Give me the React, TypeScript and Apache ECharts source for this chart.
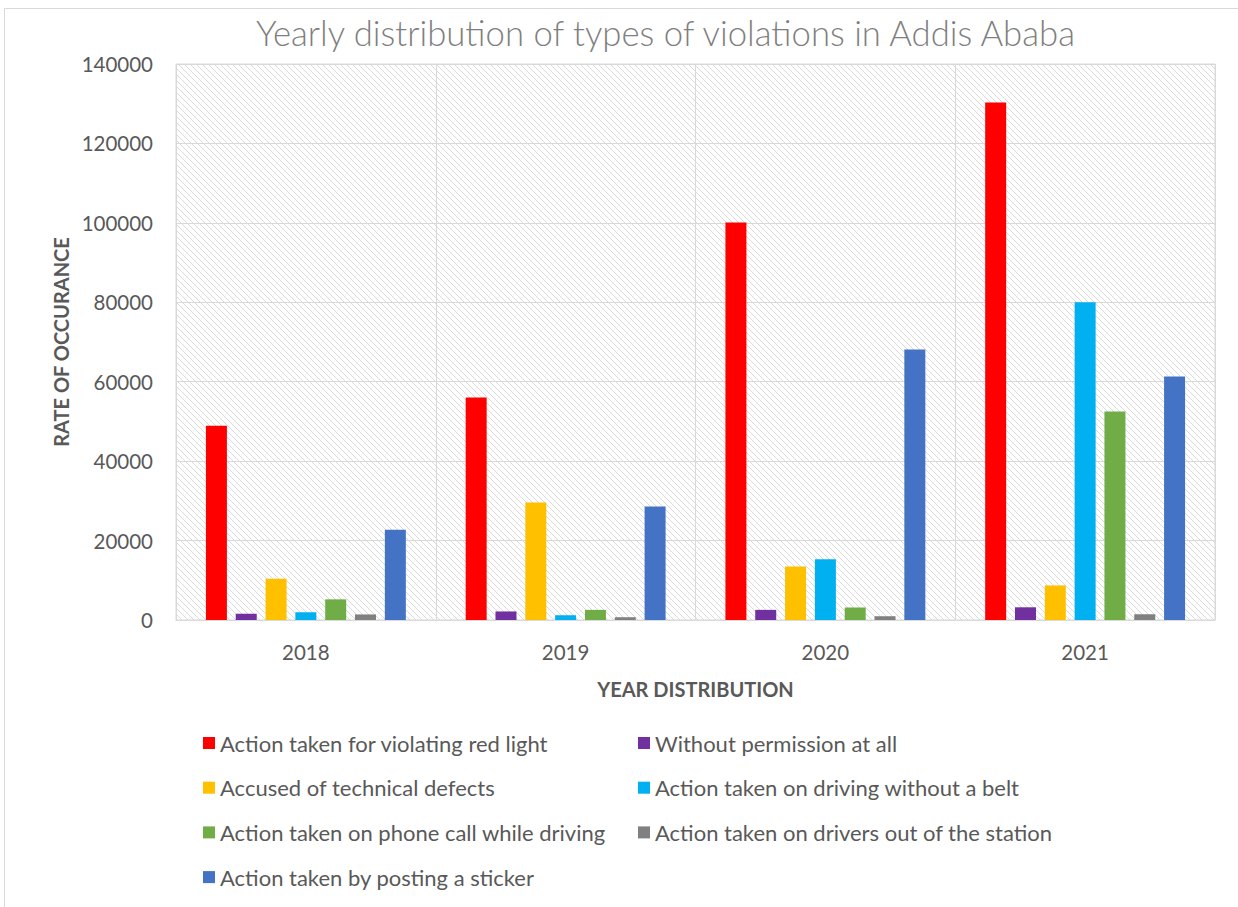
import React, { useEffect, useRef } from "react";
import * as echarts from "echarts";

const years = ["2018", "2019", "2020", "2021"];
const seriesNames = [
  "Action taken for violating red light",
  "Without permission at all",
  "Accused of technical defects",
  "Action taken on driving without a belt",
  "Action taken on phone call while driving",
  "Action taken on drivers out of the station",
  "Action taken by posting a sticker",
];
const redLight = [48900, 56000, 100100, 130300];
const noPermission = [1550, 2150, 2550, 3200];
const technicalDefects = [10400, 29600, 13500, 8700];
const noBelt = [1950, 1200, 15300, 80000];
const phoneCall = [5200, 2550, 3150, 52500];
const outOfStation = [1400, 700, 950, 1450];
const sticker = [22700, 28600, 68100, 61300];
const seriesValues = [redLight, noPermission, technicalDefects, noBelt, phoneCall, outOfStation, sticker];
const colors = ["#FF0000", "#7030A0", "#FFC000", "#00B0F0", "#70AD47", "#808080", "#4472C4"];
const yTicks = [0, 20000, 40000, 60000, 80000, 100000, 120000, 140000];

function makePattern(): HTMLCanvasElement {
  const c = document.createElement("canvas");
  c.width = 6;
  c.height = 6;
  const ctx = c.getContext("2d")!;
  ctx.fillStyle = "#ffffff";
  ctx.fillRect(0, 0, 6, 6);
  ctx.strokeStyle = "#dadada";
  ctx.lineWidth = 1;
  ctx.beginPath();
  ctx.moveTo(-1, -1);
  ctx.lineTo(7, 7);
  ctx.moveTo(-1, 5);
  ctx.lineTo(1, 7);
  ctx.moveTo(5, -1);
  ctx.lineTo(7, 1);
  ctx.stroke();
  return c;
}

export default function App() {
  const ref = useRef<HTMLDivElement>(null);
  useEffect(() => {
    if (!ref.current) return;
    const chart = echarts.init(ref.current, undefined, { renderer: "svg" });
    const font = "Lato, 'Open Sans', sans-serif";
    const legendText = { fontFamily: font, fontSize: 22, color: "#595959", lineHeight: 24 };
    const option: any = {
      animation: false,
      backgroundColor: "#ffffff",
      textStyle: { fontFamily: font },
      title: {
        text: "Yearly distribution of types of violations in Addis Ababa",
        left: 251,
        top: 10,
        textStyle: { fontFamily: font, fontSize: 34.7, fontWeight: 300, color: "#7f7f7f" },
      },
      graphic: [
        {
          type: "rect",
          shape: { x: 4.5, y: 8.5, width: 1240, height: 900 },
          style: { fill: "none", stroke: "#d9d9d9", lineWidth: 1 },
          silent: true,
          z: -1,
        },
      ],
      grid: {
        left: 176,
        right: 23,
        top: 64,
        bottom: 287,
        show: true,
        borderColor: "#d9d9d9",
        borderWidth: 1,
        backgroundColor: { image: makePattern(), repeat: "repeat" },
      },
      legend: [
        {
          orient: "vertical",
          left: 198,
          top: 726,
          icon: "rect",
          itemWidth: 12,
          itemHeight: 12,
          itemGap: 20.7,
          data: [seriesNames[0], seriesNames[2], seriesNames[4], seriesNames[6]],
          textStyle: legendText,
        },
        {
          orient: "vertical",
          left: 633,
          top: 726,
          icon: "rect",
          itemWidth: 12,
          itemHeight: 12,
          itemGap: 20.7,
          data: [seriesNames[1], seriesNames[3], seriesNames[5]],
          textStyle: legendText,
        },
      ],
      xAxis: {
        type: "category",
        data: years,
        name: "YEAR DISTRIBUTION",
        nameLocation: "middle",
        nameGap: 59,
        nameTextStyle: { fontFamily: font, fontSize: 20, fontWeight: "bold", color: "#595959" },
        axisLine: { show: true, lineStyle: { color: "#d9d9d9", width: 1 } },
        axisTick: { show: false },
        axisLabel: { margin: 21, fontSize: 20.5, color: "#595959", fontFamily: font },
        splitLine: { show: true, lineStyle: { color: "#d9d9d9", width: 1 } },
      },
      yAxis: {
        type: "value",
        min: 0,
        max: yTicks[yTicks.length - 1],
        interval: yTicks[1] - yTicks[0],
        name: "RATE OF OCCURANCE",
        nameLocation: "middle",
        nameRotate: 90,
        nameGap: 104,
        nameTextStyle: { fontFamily: font, fontSize: 20, fontWeight: "bold", color: "#595959" },
        axisLine: { show: false },
        axisTick: { show: false },
        axisLabel: {
          margin: 23,
          fontSize: 20.5,
          color: "#595959",
          fontFamily: font,
          formatter: (v: number) => String(v),
        },
        splitLine: { show: true, lineStyle: { color: "#d9d9d9", width: 1 } },
      },
      series: seriesNames.map((name, i) => ({
        name,
        type: "bar",
        data: seriesValues[i],
        barWidth: 21,
        barGap: "42%",
        itemStyle: { color: colors[i] },
      })),
    };
    chart.setOption(option);
    return () => chart.dispose();
  }, []);
  return (
    <div
      ref={ref}
      style={{ position: "absolute", left: 0, top: 0, width: 1238, height: 907 }}
    />
  );
}
